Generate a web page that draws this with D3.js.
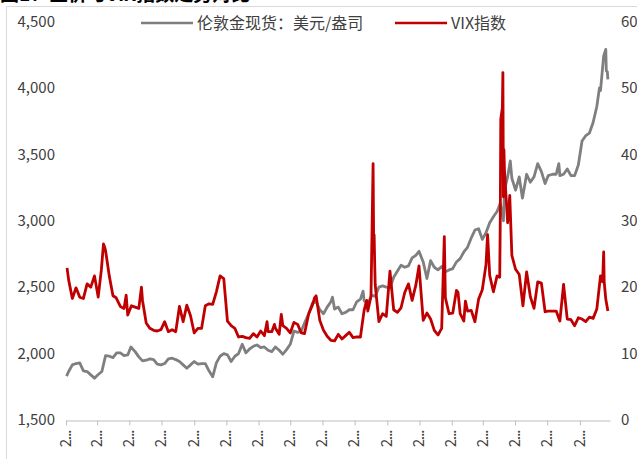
<!DOCTYPE html>
<html>
<head>
<meta charset="utf-8">
<script src="https://cdn.jsdelivr.net/npm/d3@7"></script>
<style>
  body { margin: 0; background: #fff; }
  svg { display: block; font-family: "Noto Sans CJK SC", "Noto Sans", sans-serif; }
</style>
</head>
<body>
<svg id="chart" width="637" height="459"></svg>
<script>
// ---- data ----
var titleText = "图1：金价与VIX指数走势对比";
var goldName = "伦敦金现货：美元/盎司";
var vixName = "VIX指数";

var leftTicks = [1500, 2000, 2500, 3000, 3500, 4000, 4500];
var rightTicks = [0, 10, 20, 30, 40, 50, 60];
var tickLabels = ["2023-01", "2023-03", "2023-05", "2023-07", "2023-09", "2023-11",
                  "2024-01", "2024-03", "2024-05", "2024-07", "2024-09", "2024-11",
                  "2025-01", "2025-03", "2025-05", "2025-07", "2025-09"];

// London gold spot, USD/oz
var gold = [
  ["2023-01-02",1830],["2023-01-06",1865],["2023-01-13",1915],["2023-01-20",1925],["2023-01-27",1930],
  ["2023-02-03",1870],["2023-02-10",1865],["2023-02-17",1840],["2023-02-24",1815],["2023-03-01",1835],
  ["2023-03-10",1865],["2023-03-17",1985],["2023-03-24",1980],["2023-03-31",1970],["2023-04-07",2005],
  ["2023-04-14",2005],["2023-04-21",1985],["2023-04-28",1990],["2023-05-04",2050],["2023-05-12",2015],
  ["2023-05-19",1975],["2023-05-26",1945],["2023-06-02",1950],["2023-06-09",1960],["2023-06-16",1955],
  ["2023-06-23",1920],["2023-06-30",1915],["2023-07-07",1925],["2023-07-14",1960],["2023-07-21",1965],
  ["2023-07-28",1955],["2023-08-04",1940],["2023-08-11",1915],["2023-08-18",1890],["2023-08-25",1915],
  ["2023-09-01",1940],["2023-09-08",1920],["2023-09-15",1925],["2023-09-22",1925],["2023-09-29",1870],
  ["2023-10-06",1825],["2023-10-13",1930],["2023-10-20",1980],["2023-10-27",2000],["2023-11-03",1990],
  ["2023-11-10",1940],["2023-11-17",1980],["2023-11-24",2000],["2023-12-01",2070],["2023-12-08",2005],
  ["2023-12-15",2035],["2023-12-22",2055],["2023-12-29",2065],
  ["2024-01-05",2045],["2024-01-12",2050],["2024-01-19",2025],["2024-01-26",2015],["2024-02-02",2050],
  ["2024-02-09",2025],["2024-02-16",1995],["2024-02-23",2030],["2024-03-01",2070],["2024-03-08",2170],
  ["2024-03-15",2160],["2024-03-22",2170],["2024-03-28",2230],["2024-04-05",2300],["2024-04-12",2380],
  ["2024-04-19",2390],["2024-04-26",2330],["2024-05-03",2300],["2024-05-10",2350],["2024-05-17",2390],
  ["2024-05-20",2425],["2024-05-24",2335],["2024-05-31",2350],["2024-06-07",2300],["2024-06-14",2310],
  ["2024-06-21",2330],["2024-06-28",2330],["2024-07-05",2390],["2024-07-12",2410],["2024-07-17",2470],
  ["2024-07-19",2400],["2024-07-26",2370],["2024-08-02",2440],["2024-08-09",2430],["2024-08-16",2500],
  ["2024-08-23",2510],["2024-08-30",2500],["2024-09-06",2495],["2024-09-13",2575],["2024-09-20",2620],
  ["2024-09-27",2665],["2024-10-04",2650],["2024-10-11",2660],["2024-10-18",2720],["2024-10-25",2740],
  ["2024-10-31",2770],["2024-11-08",2690],["2024-11-15",2565],["2024-11-22",2700],["2024-11-29",2650],
  ["2024-12-06",2630],["2024-12-13",2655],["2024-12-20",2615],["2024-12-27",2630],
  ["2025-01-03",2640],["2025-01-10",2690],["2025-01-17",2715],["2025-01-24",2765],["2025-01-31",2800],
  ["2025-02-07",2870],["2025-02-14",2930],["2025-02-21",2940],["2025-02-28",2860],["2025-03-07",2910],
  ["2025-03-14",2985],["2025-03-21",3030],["2025-03-28",3070],["2025-04-03",3130],["2025-04-09",3000],
  ["2025-04-11",3230],["2025-04-17",3330],["2025-04-22",3450],["2025-04-25",3320],["2025-05-02",3230],
  ["2025-05-09",3330],["2025-05-15",3170],["2025-05-23",3350],["2025-05-30",3290],["2025-06-06",3330],
  ["2025-06-13",3430],["2025-06-20",3370],["2025-06-27",3280],["2025-07-03",3340],["2025-07-11",3350],
  ["2025-07-18",3350],["2025-07-23",3430],["2025-07-25",3340],["2025-08-01",3350],["2025-08-08",3390],
  ["2025-08-15",3340],["2025-08-22",3340],["2025-08-29",3420],["2025-09-05",3600],["2025-09-12",3640],
  ["2025-09-19",3660],["2025-09-26",3740],["2025-10-03",3860],["2025-10-08",4000],["2025-10-10",3980],
  ["2025-10-16",4240],["2025-10-20",4290],["2025-10-21",4130],["2025-10-23",4120],["2025-10-24",4065]
];

// VIX index
var vix = [
  ["2023-01-03",22.9],["2023-01-06",21.1],["2023-01-13",18.3],["2023-01-20",19.9],["2023-01-27",18.5],
  ["2023-02-03",18.3],["2023-02-10",20.5],["2023-02-17",20.0],["2023-02-24",21.7],["2023-03-03",18.5],
  ["2023-03-09",22.6],["2023-03-13",26.5],["2023-03-15",26.1],["2023-03-17",25.5],["2023-03-24",21.7],
  ["2023-03-31",18.7],["2023-04-06",18.4],["2023-04-14",17.1],["2023-04-21",16.8],["2023-04-25",18.8],
  ["2023-04-28",15.8],["2023-05-05",17.2],["2023-05-12",17.0],["2023-05-19",16.8],["2023-05-24",20.0],
  ["2023-05-26",18.0],["2023-06-02",14.6],["2023-06-09",13.8],["2023-06-16",13.5],["2023-06-23",13.4],
  ["2023-06-30",13.6],["2023-07-07",14.8],["2023-07-14",13.3],["2023-07-21",13.6],["2023-07-28",13.3],
  ["2023-08-04",17.1],["2023-08-11",14.8],["2023-08-18",17.3],["2023-08-25",15.7],["2023-09-01",13.1],
  ["2023-09-08",13.8],["2023-09-15",13.8],["2023-09-22",17.2],["2023-09-29",17.5],["2023-10-06",17.4],
  ["2023-10-13",19.3],["2023-10-20",21.7],["2023-10-27",21.3],["2023-11-03",14.9],["2023-11-10",14.2],
  ["2023-11-17",13.8],["2023-11-24",12.5],["2023-12-01",12.6],["2023-12-08",12.4],["2023-12-15",12.3],
  ["2023-12-22",13.0],["2023-12-29",12.5],
  ["2024-01-05",13.4],["2024-01-12",12.7],["2024-01-17",14.8],["2024-01-19",13.3],["2024-01-26",13.3],
  ["2024-01-31",14.4],["2024-02-02",13.8],["2024-02-09",12.9],["2024-02-13",15.9],["2024-02-16",14.2],
  ["2024-02-23",13.8],["2024-03-01",13.1],["2024-03-08",14.7],["2024-03-15",14.4],["2024-03-22",13.1],
  ["2024-03-28",13.0],["2024-04-05",16.0],["2024-04-12",17.3],["2024-04-16",18.4],["2024-04-19",18.7],
  ["2024-04-26",15.0],["2024-05-03",13.5],["2024-05-10",12.6],["2024-05-17",12.0],["2024-05-24",11.9],
  ["2024-05-31",12.9],["2024-06-07",12.2],["2024-06-14",12.7],["2024-06-21",13.2],["2024-06-28",12.4],
  ["2024-07-05",12.5],["2024-07-12",12.5],["2024-07-19",16.5],["2024-07-24",18.0],["2024-07-26",16.4],
  ["2024-08-01",18.6],["2024-08-02",23.4],["2024-08-05",38.6],["2024-08-06",27.7],["2024-08-07",27.9],
  ["2024-08-08",23.8],["2024-08-09",20.4],["2024-08-16",14.8],["2024-08-23",16.0],["2024-08-30",15.6],
  ["2024-09-06",22.4],["2024-09-13",16.6],["2024-09-20",16.2],["2024-09-27",16.9],["2024-10-04",19.2],
  ["2024-10-11",20.5],["2024-10-18",18.0],["2024-10-25",20.3],["2024-10-31",23.2],["2024-11-08",15.0],
  ["2024-11-15",16.1],["2024-11-22",15.2],["2024-11-29",13.5],["2024-12-06",12.8],["2024-12-13",13.8],
  ["2024-12-18",27.6],["2024-12-20",18.4],["2024-12-27",16.0],
  ["2025-01-03",16.1],["2025-01-10",19.5],["2025-01-13",19.2],["2025-01-17",16.0],["2025-01-24",14.9],
  ["2025-01-27",17.9],["2025-01-31",16.4],["2025-02-07",16.5],["2025-02-14",14.8],["2025-02-21",18.2],
  ["2025-02-28",19.6],["2025-03-07",23.4],["2025-03-10",27.9],["2025-03-14",21.8],["2025-03-21",19.3],
  ["2025-03-28",21.7],["2025-04-02",21.5],["2025-04-03",30.0],["2025-04-04",45.3],["2025-04-07",47.0],
  ["2025-04-08",52.3],["2025-04-09",33.6],["2025-04-10",40.7],["2025-04-11",37.6],["2025-04-17",29.7],
  ["2025-04-21",33.8],["2025-04-25",24.8],["2025-05-02",22.7],["2025-05-09",21.9],["2025-05-16",17.2],
  ["2025-05-23",22.3],["2025-05-30",18.6],["2025-06-06",16.8],["2025-06-13",20.8],["2025-06-20",20.6],
  ["2025-06-27",16.3],["2025-07-03",16.4],["2025-07-11",16.4],["2025-07-18",16.4],["2025-07-25",14.9],
  ["2025-08-01",20.4],["2025-08-08",15.2],["2025-08-15",15.1],["2025-08-22",14.2],["2025-08-29",15.4],
  ["2025-09-05",15.2],["2025-09-12",14.8],["2025-09-19",15.5],["2025-09-26",15.3],["2025-10-03",16.7],
  ["2025-10-10",21.7],["2025-10-14",20.8],["2025-10-16",25.3],["2025-10-17",20.8],["2025-10-20",18.2],
  ["2025-10-24",16.4]
];

// ---- chart ----
var svg = d3.select("#chart"),
    parse = d3.timeParse("%Y-%m-%d"),
    textColor = "#404040",
    axisColor = "#bfbfbf";

var x = d3.scaleTime()
    .domain([new Date(2023, 0, 1), new Date(2025, 9, 28)])
    .range([66, 610]);
var yLeft = d3.scaleLinear().domain([1500, 4500]).range([420, 21.5]);
var yRight = d3.scaleLinear().domain([0, 60]).range([420, 21.5]);

// title (mostly cut off above the frame, as in the source)
svg.append("text")
    .attr("x", 0).attr("y", 0.5)
    .style("font-size", "19px").style("font-weight", "bold")
    .attr("fill", "#000")
    .text(titleText);

// frame
svg.append("rect")
    .attr("x", 6.5).attr("y", 6.5)
    .attr("width", 700).attr("height", 500)
    .attr("fill", "none").attr("stroke", "#d9d9d9");

// left axis labels
svg.append("g").selectAll("text")
    .data(leftTicks).enter().append("text")
    .attr("x", 55).attr("y", function (d) { return yLeft(d); })
    .attr("dy", "0.35em").attr("text-anchor", "end")
    .attr("fill", textColor).style("font-size", "15px")
    .text(d3.format(","));

// right axis labels
svg.append("g").selectAll("text")
    .data(rightTicks).enter().append("text")
    .attr("x", 621).attr("y", function (d) { return yRight(d); })
    .attr("dy", "0.35em").attr("text-anchor", "start")
    .attr("fill", textColor).style("font-size", "15px")
    .text(function (d) { return d; });

// x axis, every two months, labels cut short like Excel does
var tickDates = d3.timeMonth.every(2).range(x.domain()[0], x.domain()[1]);
var xAxis = d3.axisBottom(x)
    .tickValues(tickDates)
    .tickSize(5).tickSizeOuter(0)
    .tickFormat(function (d, i) { return tickLabels[i].slice(0, 1) + "..."; });

var gx = svg.append("g").attr("transform", "translate(0,420.5)").call(xAxis);
gx.select(".domain").attr("stroke", axisColor);
gx.selectAll(".tick line").attr("stroke", axisColor);
gx.selectAll(".tick text")
    .attr("transform", "rotate(-90)")
    .attr("x", -10).attr("y", -1).attr("dy", "0.35em")
    .attr("text-anchor", "end")
    .attr("fill", textColor)
    .style("font-size", "15px")
    .style("letter-spacing", "-1px")
    .style("font-family", "\"Noto Sans CJK SC\", sans-serif");

// lines
var goldLine = d3.line()
    .x(function (d) { return x(parse(d[0])); })
    .y(function (d) { return yLeft(d[1]); });
var vixLine = d3.line()
    .x(function (d) { return x(parse(d[0])); })
    .y(function (d) { return yRight(d[1]); });

svg.append("path").datum(gold)
    .attr("d", goldLine)
    .attr("fill", "none").attr("stroke", "#7f7f7f")
    .attr("stroke-width", 2.8).attr("stroke-linejoin", "round");

svg.append("path").datum(vix)
    .attr("d", vixLine)
    .attr("fill", "none").attr("stroke", "#c00000")
    .attr("stroke-width", 2.8).attr("stroke-linejoin", "round");

// legend
var legend = [
  { name: goldName, color: "#7f7f7f", x: 141 },
  { name: vixName, color: "#c00000", x: 395 }
];
var lg = svg.append("g").selectAll("g").data(legend).enter().append("g")
    .attr("transform", function (d) { return "translate(" + d.x + ",23)"; });
lg.append("line")
    .attr("x1", 0).attr("x2", 52).attr("y1", 0).attr("y2", 0)
    .attr("stroke", function (d) { return d.color; }).attr("stroke-width", 2.5);
lg.append("text")
    .attr("x", 56).attr("dy", "0.35em")
    .attr("fill", textColor).style("font-size", "16px")
    .text(function (d) { return d.name; });
</script>
</body>
</html>
